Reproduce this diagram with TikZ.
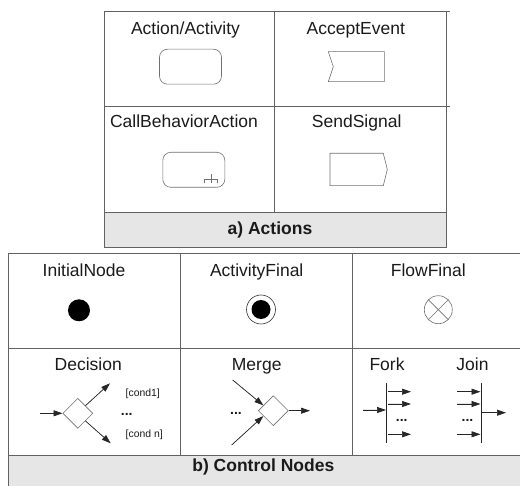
\documentclass[tikz,border=0pt]{standalone}
\usepackage{fontspec}
\setmainfont{Liberation Sans}
\usetikzlibrary{shapes.geometric,arrows.meta,calc}
\definecolor{linegray}{HTML}{626262}
\definecolor{shapegray}{HTML}{707070}
\definecolor{capgray}{HTML}{E6E6E6}
\definecolor{txt}{HTML}{1A1A1A}
\begin{document}
\begin{tikzpicture}[x=1pt,y=-1pt,
 lbl/.style={anchor=base,inner sep=0,text=txt,font=\fontsize{17.5}{20}\selectfont},
 captext/.style={anchor=base,inner sep=0,text=txt,font=\fontsize{17.5}{20}\selectfont\bfseries},
 small/.style={anchor=base west,inner sep=0,text=txt,font=\fontsize{10.4}{12}\selectfont},
 dots/.style={inner sep=0,text=txt,font=\fontsize{14}{14}\selectfont\bfseries},
 grid/.style={draw=linegray,line width=0.9pt},
 actbox/.style={draw=shapegray,line width=0.6pt,rounded corners=8pt,minimum width=62pt,minimum height=35pt,inner sep=0},
 dia/.style={diamond,draw=shapegray,line width=0.6pt,minimum size=30pt,inner sep=0,aspect=1},
 arr/.style={-{Triangle[length=9pt,width=6pt]},line width=0.7pt,draw=black!85,fill=black!85},
 barline/.style={draw=black!85,line width=0.8pt}
]
\useasboundingbox (0,0) rectangle (520,486);

% ---------- a) Actions table ----------
\draw[grid] (104,11) -- (450,11);
\draw[grid] (104,106) -- (450,106);
\draw[grid] (104,11) -- (104,212);
\draw[grid] (446,11) -- (446,212);
\draw[grid] (274,11) -- (274,212);
\draw[grid,fill=capgray] (104,212) rectangle (446,247);
\node[captext] (capa) at (270,235) {a) Actions};

\node[lbl] (lact) at (185.5,35) {Action/Activity};
\node[actbox] (sact) at (190.5,66.7) {};

\node[lbl] (lacc) at (355.8,35) {AcceptEvent};
\draw[shapegray,line width=0.6pt] (328.3,51.7) -- (384.3,51.7) -- (384.3,81.7) -- (328.3,81.7) -- (333.3,66.7) -- cycle;

\node[lbl] (lcall) at (184,128) {CallBehaviorAction};
\node[actbox] (scall) at (193.8,169.8) {};
\draw[shapegray,line width=0.6pt] (204,182.7) -- (204,179) -- (217.3,179) -- (217.3,182.7);
\draw[shapegray,line width=0.6pt] (211,174.3) -- (211,182.7);

\node[lbl] (lsend) at (356.7,128) {SendSignal};
\draw[shapegray,line width=0.6pt] (330,153.3) -- (383.3,153.3) -- (387.3,169.5) -- (383.3,185.7) -- (330,185.7) -- cycle;

% ---------- b) Control Nodes table ----------
\draw[grid] (8,253) -- (521,253);
\draw[grid] (8,348) -- (521,348);
\draw[grid] (8,253) -- (8,455);
\draw[grid] (180,253) -- (180,455);
\draw[grid] (352,253) -- (352,455);
\draw[grid,fill=capgray] (8,455) rectangle (522,490);
\node[captext] (capb) at (263.3,472) {b) Control Nodes};

\node[lbl] (linit) at (84,277) {InitialNode};
\node[circle,fill=black,minimum size=22pt,inner sep=0] (init) at (79,310.3) {};

\node[lbl] (lafin) at (256.7,277) {ActivityFinal};
\node[circle,draw=black!80,line width=0.6pt,minimum size=29pt,inner sep=0] (afo) at (261,309.5) {};
\node[circle,fill=black,minimum size=19pt,inner sep=0] (afi) at (afo.center) {};

\node[lbl] (lffin) at (428.3,277) {FlowFinal};
\node[circle,draw=shapegray,line width=0.6pt,minimum size=28pt,inner sep=0] (ff) at (438.3,309.7) {};
\draw[shapegray,line width=0.6pt] (ff.north west) -- (ff.south east);
\draw[shapegray,line width=0.6pt] (ff.north east) -- (ff.south west);

% Decision
\node[lbl] (ldec) at (88.3,371) {Decision};
\node[dia] (dec) at (77.8,413.3) {};
\coordinate (decin) at (40,413.3);
\coordinate (decup) at (110,383.3);
\coordinate (decdn) at (110.7,443.3);
\draw[arr] (decin) -- (dec.west);
\draw[arr] (dec.north east) -- (decup);
\draw[arr] (dec.south east) -- (decdn);
\node[small] (c1) at (125.5,396.5) {[cond1]};
\node[dots] (ddec) at (126.7,414) {...};
\node[small] (cn) at (125.5,437.5) {[cond n]};

% Merge
\node[lbl] (lmer) at (256.7,371) {Merge};
\node[dia] (mer) at (273.3,410.7) {};
\coordinate (merin1) at (232.7,380);
\coordinate (merin2) at (231.7,445);
\coordinate (merout) at (310,410.7);
\draw[arr] (merin1) -- ($(mer.west)!0.35!(mer.north)$);
\draw[arr] (merin2) -- ($(mer.west)!0.35!(mer.south)$);
\draw[arr] (mer.east) -- (merout);
\node[dots] (dmer) at (236,413) {...};

% Fork
\node[lbl] (lfork) at (387,371) {Fork};
\coordinate (fbt) at (386,383);
\coordinate (fbb) at (386,443);
\draw[barline] (fbt) -- (fbb);
\coordinate (fin) at (363,410);
\coordinate (fb0) at (386,410);
\draw[arr] (fin) -- (fb0);
\coordinate (fo1s) at (388,391.7); \coordinate (fo1e) at (411,391.7);
\coordinate (fo2s) at (388,404);   \coordinate (fo2e) at (411,404);
\coordinate (fo3s) at (388,434.3); \coordinate (fo3e) at (411,434.3);
\draw[arr] (fo1s) -- (fo1e);
\draw[arr] (fo2s) -- (fo2e);
\draw[arr] (fo3s) -- (fo3e);
\node[dots] (dfork) at (401.7,420.5) {...};

% Join
\node[lbl] (ljoin) at (472.5,371) {Join};
\coordinate (jbt) at (481,383);
\coordinate (jbb) at (481,443);
\draw[barline] (jbt) -- (jbb);
\coordinate (ji1s) at (457,391.7); \coordinate (ji1e) at (480.5,391.7);
\coordinate (ji2s) at (457,404);   \coordinate (ji2e) at (480.5,404);
\coordinate (ji3s) at (457,434.3); \coordinate (ji3e) at (480.5,434.3);
\draw[arr] (ji1s) -- (ji1e);
\draw[arr] (ji2s) -- (ji2e);
\draw[arr] (ji3s) -- (ji3e);
\coordinate (jos) at (482,412.7);
\coordinate (joe) at (506,412.7);
\draw[arr] (jos) -- (joe);
\node[dots] (djoin) at (467.5,420.5) {...};
\end{tikzpicture}
\end{document}
